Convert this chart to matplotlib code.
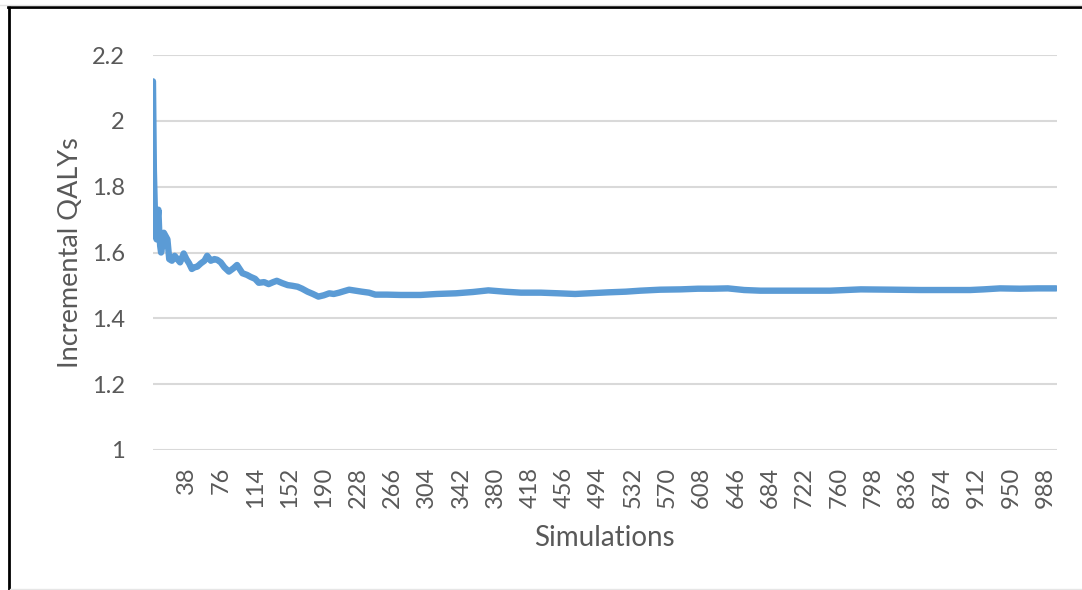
import matplotlib
matplotlib.use("Agg")
import matplotlib.pyplot as plt
from matplotlib.lines import Line2D

# ---- data ----
simulations = [1, 2, 3, 4, 5, 6, 7, 8, 9, 10, 12, 13, 15, 17, 19, 22, 25, 28, 31, 35,
               38, 41, 44, 47, 50, 54, 58, 61, 65, 69, 72, 76, 80, 85, 90, 94, 100, 105,
               109, 114, 118, 124, 129, 134, 138, 144, 150, 155, 161, 166, 172, 178, 184,
               190, 196, 201, 207, 213, 218, 225, 232, 240, 247, 260, 275, 297, 315, 336,
               355, 372, 390, 408, 430, 450, 468, 490, 505, 524, 540, 562, 585, 604, 620,
               637, 655, 673, 700, 750, 784, 820, 850, 880, 905, 920, 938, 960, 980, 1000]
incremental_qalys = [2.12, 1.85, 1.74, 1.66, 1.64, 1.70, 1.73, 1.66, 1.62, 1.60, 1.63, 1.66,
                     1.65, 1.64, 1.58, 1.575, 1.59, 1.58, 1.57, 1.597, 1.58, 1.567, 1.55,
                     1.555, 1.557, 1.567, 1.575, 1.59, 1.575, 1.58, 1.578, 1.57, 1.555,
                     1.542, 1.552, 1.562, 1.537, 1.532, 1.526, 1.52, 1.508, 1.51, 1.504,
                     1.51, 1.514, 1.507, 1.501, 1.499, 1.496, 1.49, 1.481, 1.474, 1.466,
                     1.47, 1.476, 1.474, 1.478, 1.483, 1.487, 1.484, 1.481, 1.478, 1.472,
                     1.472, 1.471, 1.471, 1.474, 1.476, 1.48, 1.485, 1.481, 1.478, 1.478,
                     1.476, 1.474, 1.477, 1.479, 1.481, 1.484, 1.487, 1.488, 1.49, 1.49,
                     1.491, 1.486, 1.484, 1.484, 1.484, 1.488, 1.487, 1.486, 1.486, 1.486,
                     1.488, 1.491, 1.49, 1.491, 1.491]
x_ticks = list(range(38, 1000, 38))
y_ticks = [1, 1.2, 1.4, 1.6, 1.8, 2, 2.2]
y_tick_labels = ["1", "1.2", "1.4", "1.6", "1.8", "2", "2.2"]
x_title = "Simulations"
y_title = "Incremental QALYs"

# ---- figure ----
W, H = 1082, 590
fig = plt.figure(figsize=(W / 100, H / 100), dpi=100)
plt.rcParams['font.family'] = ['Lato', 'DejaVu Sans']

left, right, top, bottom = 152.5, 1056.5, 55, 450
ax = fig.add_axes([left / W, (H - bottom) / H, (right - left) / W, (bottom - top) / H])

txt_color = "#595959"
grid_color = "#D9D9D9"

ax.plot(simulations, incremental_qalys, color="#5B9BD5", lw=4.6,
        solid_joinstyle="round", solid_capstyle="round", zorder=3)

ax.set_xlim(0.5, 1000.5)
ax.set_ylim(1, 2.2)
ax.set_yticks(y_ticks)
ax.set_yticklabels(y_tick_labels)
ax.set_xticks(x_ticks)
ax.set_xticklabels([str(t) for t in x_ticks], rotation=90)

for s in ax.spines.values():
    s.set_visible(False)
ax.grid(axis="y", color=grid_color, lw=1.5, zorder=0)
ax.tick_params(axis="both", length=0, colors=txt_color, labelsize=17)
ax.tick_params(axis="y", pad=20)
ax.tick_params(axis="x", pad=12)

ax.set_xlabel(x_title, fontsize=20, color=txt_color, labelpad=12)
ax.set_ylabel(y_title, fontsize=19.5, color=txt_color, labelpad=6)

# frame around the chart (cropped screenshot)
fig.add_artist(Line2D([7.5 / W, 1.0], [1 - 7 / H, 1 - 7 / H], color="black", lw=2.0,
                      transform=fig.transFigure))
fig.add_artist(Line2D([8.5 / W, 8.5 / W], [0, 1 - 6 / H], color="black", lw=2.0,
                      transform=fig.transFigure))
fig.add_artist(Line2D([10 / W, 1.0], [1.5 / H, 1.5 / H], color="#E6E6E6", lw=1.0,
                      transform=fig.transFigure))
fig.add_artist(Line2D([0, 1.0], [1 - 4.5 / H, 1 - 4.5 / H], color="#E2E2E2", lw=1.0,
                      transform=fig.transFigure))

fig.savefig("out.png", dpi=100)
